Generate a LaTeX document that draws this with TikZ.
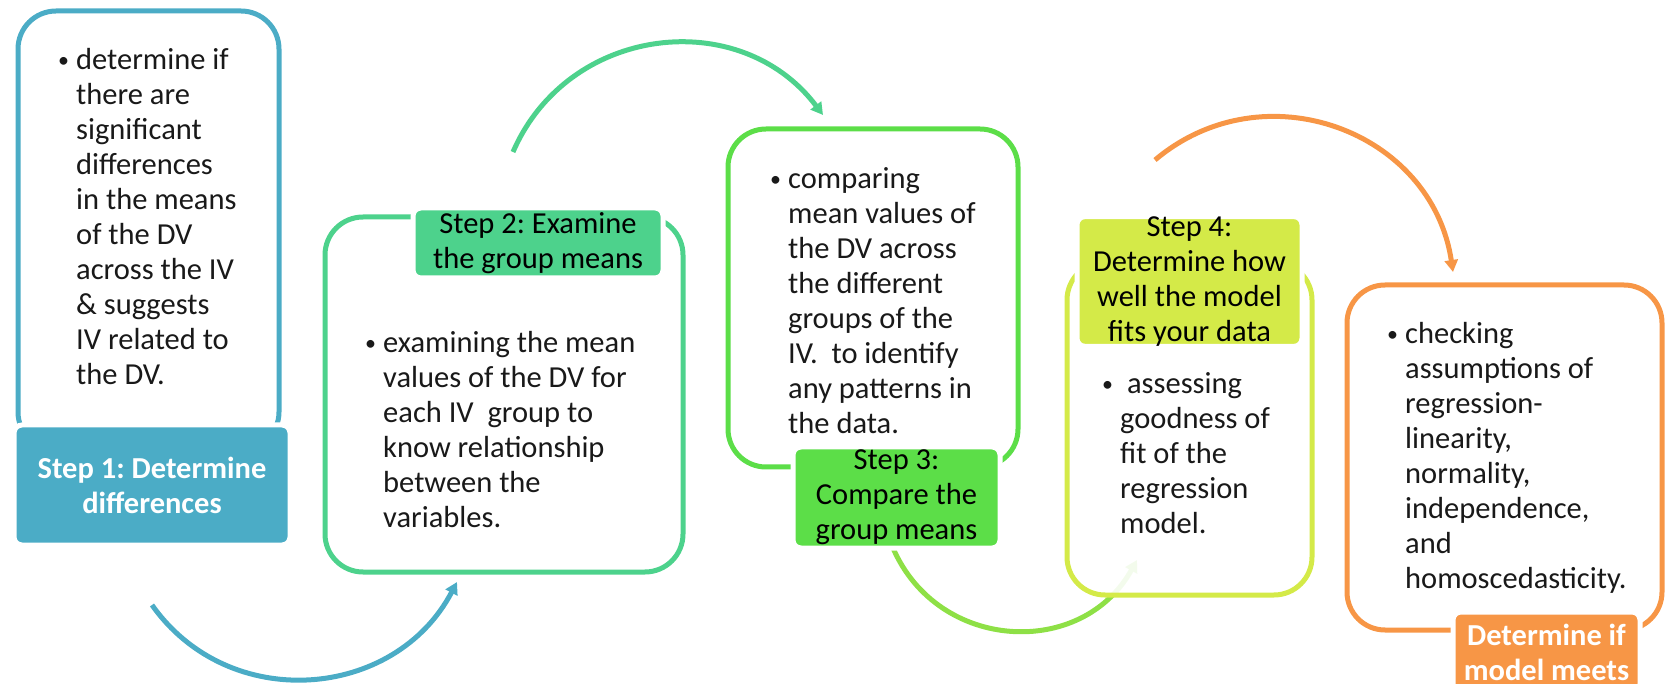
\documentclass[tikz,border=0pt]{standalone}
\usepackage{fontspec}
\setmainfont{Carlito}
\usetikzlibrary{arrows.meta, positioning}

\definecolor{stepblue}{HTML}{4BACC6}
\definecolor{stepteal}{HTML}{4DD28C}
\definecolor{stepgreen}{HTML}{5CDE48}
\definecolor{steplime}{HTML}{D4EA48}
\definecolor{steporange}{HTML}{F79646}
\definecolor{arcgreen}{HTML}{8EE046}

\newcommand{\stepfont}{\fontsize{30.5}{35}\selectfont\frenchspacing}
\newcommand{\bitem}[1]{\makebox[18pt][l]{\raisebox{2pt}{\scalebox{0.72}{\textbullet}}}\begin{tabular}[t]{@{}l@{}}#1\end{tabular}}

\tikzset{
  panel/.style={draw=#1, line width=5pt, rounded corners=38pt, fill=white, inner sep=0pt},
  steplabel/.style={fill=#1, draw=white, line width=5pt, rounded corners=8pt, align=center, inner sep=0pt, font=\stepfont},
  whitelabel/.style={steplabel=#1, text=white, font=\stepfont\bfseries},
  bodytext/.style={anchor=base west, inner sep=0pt, text=black!90, font=\stepfont},
  arc/.style={draw=#1, line width=5pt, -{Triangle[length=12pt,width=13pt]}},
}

\begin{document}
\begin{tikzpicture}[x=1pt, y=-1pt]
    \useasboundingbox (0,0) rectangle (1666,684);
    \clip (0,0) rectangle (1666,684);

    % curved arrows
    \coordinate (a1s) at (152,605);
    \coordinate (a1e) at (457,582);
    \coordinate (a2s) at (513,152);
    \coordinate (a2e) at (823,115);
    \coordinate (a3s) at (893,548);
    \coordinate (a3e) at (1137,560);
    \coordinate (a4s) at (1155,160);
    \coordinate (a4e) at (1453,272);
    \draw[arc=stepblue] (a1s) .. controls (229,714) and (395,700) .. (a1e); % Step 1 -> 2
    \draw[arc=stepteal] (a2s) .. controls (568,25) and (740,5) .. (a2e); % Step 2 -> 3
    \draw[arc=arcgreen] (a3s) .. controls (938,652) and (1082,659) .. (a3e); % Step 3 -> 4
    \draw[arc=steporange] (a4s) .. controls (1264,68) and (1432,131) .. (a4e); % Step 4 -> 5

    % panels
    \node[panel=stepblue, minimum width=261pt, minimum height=439pt] (p1) at (148.5,230.5) {};
    \node[panel=stepteal, minimum width=358pt, minimum height=355pt] (p2) at (504,394.5) {};
    \node[panel=stepgreen, minimum width=290pt, minimum height=338pt] (p3) at (873,298) {};
    \node[panel=steplime, minimum width=245pt, minimum height=333pt, fill opacity=0.9] (p4) at (1189.5,428.5) {};
    \node[panel=steporange, minimum width=315pt, minimum height=345pt] (p5) at (1504.5,457.5) {};

    % step labels
    \node[whitelabel=stepblue, minimum width=276pt, minimum height=120pt] (l1) at (152,485) {Step 1: Determine\\differences};
    \node[steplabel=stepteal, minimum width=250pt, minimum height=70pt] (l2) at (538,243) {Step 2: Examine\\the group means};
    \node[steplabel=stepgreen, minimum width=207pt, minimum height=101pt] (l3) at (896.5,497.5) {Step 3:\\Compare the\\group means};
    \node[steplabel=steplime, minimum width=225pt, minimum height=123pt] (l4) at (1189.5,281.5) {Step 4:\\Determine how\\well the model\\fits your data};
    \node[whitelabel=steporange, minimum width=187pt, minimum height=80pt] (l5) at (1546.5,652) {Determine if\\model meets};

    % bullet texts
    \node[bodytext] (t1) at (58,70) {\bitem{determine if\\there are\\significant\\differences\\in the means\\of the DV\\across the IV\\\& suggests\\IV related to\\the DV.}};
    \node[bodytext] (t2) at (365,353) {\bitem{examining the mean\\values of the DV for\\each IV\ \ group to\\know relationship\\between the\\variables.}};
    \node[bodytext] (t3) at (770,189) {\bitem{comparing\\mean values of\\the DV across\\the different\\groups of the\\IV.\ \ to identify\\any patterns in\\the data.}};
    \node[bodytext] (t4) at (1102,394) {\bitem{\ assessing\\goodness of\\fit of the\\regression\\model.}};
    \node[bodytext] (t5) at (1387,344) {\bitem{checking\\assumptions of\\regression-\\linearity,\\normality,\\independence,\\and\\homoscedasticity.}};
\end{tikzpicture}
\end{document}
